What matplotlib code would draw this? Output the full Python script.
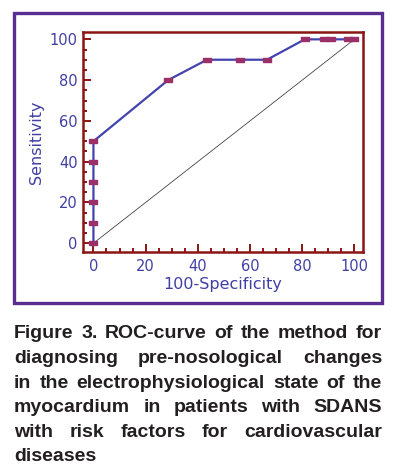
import matplotlib
matplotlib.use("Agg")
import matplotlib.pyplot as plt
from matplotlib.patches import Rectangle
import numpy as np

# ROC points
fpr = [0, 0, 0, 0, 0, 0, 28.6, 43.5, 56, 66.5, 81, 88.5, 91, 97.5, 100]
tpr = [0, 10, 20, 30, 40, 50, 80, 90, 90, 90, 100, 100, 100, 100, 100]
ticks = [0, 20, 40, 60, 80, 100]

caption_lines = [
    "Figure 3. ROC-curve of the method for",
    "diagnosing pre-nosological changes",
    "in the electrophysiological state of the",
    "myocardium in patients with SDANS",
    "with risk factors for cardiovascular",
    "diseases",
]

W, H = 394, 473
text_blue = "#4040a4"
frame_red = "#8b1414"

fig = plt.figure(figsize=(W / 100, H / 100), dpi=100)
ax = fig.add_axes([83 / W, 1 - 252 / H, 280 / W, 220 / H])

ax.plot([0, 100], [0, 100], color="#444444", lw=0.6, zorder=2)
box = [(-1, -0.62), (1, -0.62), (1, 0.62), (-1, 0.62), (-1, -0.62)]
ax.plot(fpr, tpr, color="#4343b0", lw=1.6, marker=box, markersize=5.2,
        markerfacecolor="#9b2f68", markeredgecolor="#9b2f68", zorder=3)

ax.set_xlim(-4, 103.3)
ax.set_ylim(-4.3, 103.6)
ax.set_xticks(ticks)
ax.set_yticks(ticks)
ax.set_xticks(np.arange(0, 101, 5), minor=True)
ax.set_yticks(np.arange(0, 101, 5), minor=True)
ax.tick_params(which="both", direction="in", color=frame_red, width=1.4,
               top=False, right=False)
ax.tick_params(which="major", length=6, labelsize=10.5, labelcolor=text_blue)
ax.tick_params(which="minor", length=3)
ax.tick_params(axis="x", which="major", pad=5)
ax.tick_params(axis="y", which="major", pad=4)
for sp in ax.spines.values():
    sp.set_color(frame_red)
    sp.set_linewidth(1.8)

ax.set_xlabel("100-Specificity", fontsize=11.5, color=text_blue, labelpad=2)
ax.set_ylabel("Sensitivity", fontsize=11.5, color=text_blue, labelpad=4)

# purple frame around the chart
fig.patches.append(Rectangle((14 / W, 1 - 303 / H), 368 / W, 290 / H,
                             transform=fig.transFigure, fill=False,
                             edgecolor="#5a2d90", lw=2.4))

# justified caption
left, right = 14, 382
baselines = [338.3, 362.9, 387.5, 412.1, 436.7, 461.3]
renderer = fig.canvas.get_renderer()
cap_kw = dict(fontsize=14, fontweight="bold", family="Liberation Sans",
              color="#231f20", va="baseline", ha="left")
for i, (line, base) in enumerate(zip(caption_lines, baselines)):
    y = 1 - base / H
    words = line.split()
    if i == len(caption_lines) - 1:
        fig.text(left / W, y, line, **cap_kw)
        continue
    texts = [fig.text(0, y, w, **cap_kw) for w in words]
    widths = [t.get_window_extent(renderer).width for t in texts]
    gap = (right - left - sum(widths)) / (len(words) - 1)
    x = left
    for t, wd in zip(texts, widths):
        t.set_x(x / W)
        x += wd + gap

fig.savefig("out.png", dpi=100)
